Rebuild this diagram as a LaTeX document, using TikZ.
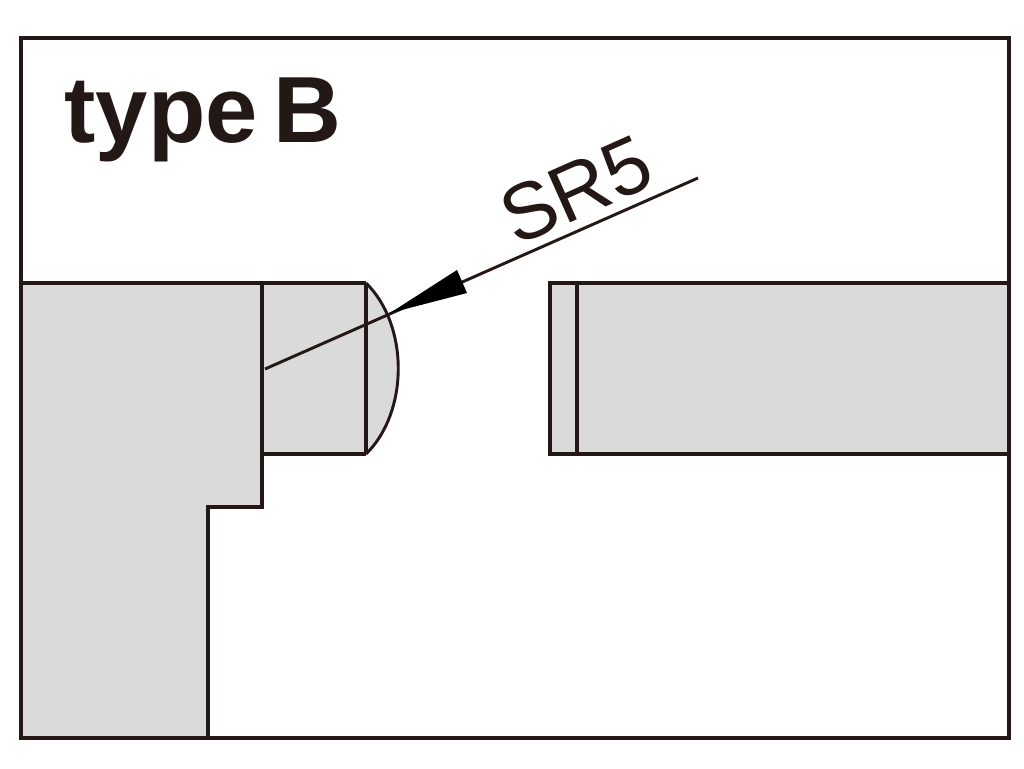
\documentclass[tikz,border=0pt]{standalone}
\usepackage{fontspec}
\setmainfont{Liberation Sans}
\usepackage{tikz}
\definecolor{partgray}{RGB}{218,218,218}
\definecolor{inkdark}{RGB}{35,24,21}
\tikzset{
  outline/.style={draw=inkdark,line width=2.4pt},
  thinline/.style={draw=inkdark,line width=2.2pt}
}
\begin{document}
\begin{tikzpicture}[x=0.75pt,y=0.75pt,yscale=-1,xscale=1]
\useasboundingbox (0,0) rectangle (1024,768);
%left part
\path [fill=partgray] (21,283) -- (366,283) -- (366,454) -- (262,454) -- (262,507) -- (208,507) -- (208,738) -- (21,738) -- cycle ;
%dome of the pin
\path [fill=partgray] (366,283) .. controls (409,325) and (409,412) .. (366,454) -- cycle ;
\draw [thinline] (366,283) .. controls (409,325) and (409,412) .. (366,454) ;
\draw [outline] (366,283) -- (366,454) ;
%right part
\path [fill=partgray] (550,283) -- (1009,283) -- (1009,454) -- (550,454) -- cycle ;
\draw [outline] (1009,283) -- (550,283) -- (550,454) -- (1009,454) ;
\draw [outline] (577,283) -- (577,454) ;
%left outline
\draw [outline] (21,283) -- (366,283) ;
\draw [outline] (262,283) -- (262,507) -- (208,507) -- (208,738) ;
\draw [outline] (262,454) -- (366,454) ;
%frame
\draw [outline] (21,38) rectangle (1009,738) ;
%leader
\coordinate (leaderStart) at (698,178) ;
\coordinate (leaderTip) at (390,313) ;
\coordinate (leaderEnd) at (265,369) ;
\draw [thinline] (leaderStart) -- (leaderEnd) ;
\fill [black] (leaderTip) -- (457,270) -- (467,293) -- cycle ;
%labels
\node (typeLabel) [text=inkdark,font=\fontsize{70.5}{70.5}\selectfont\bfseries,anchor=center] at (203,120) {type\,B} ;
\node (radiusLabel) [text=inkdark,font=\fontsize{60}{60}\selectfont,rotate=24,anchor=center] at (576,190) {SR5} ;
\end{tikzpicture}
\end{document}
